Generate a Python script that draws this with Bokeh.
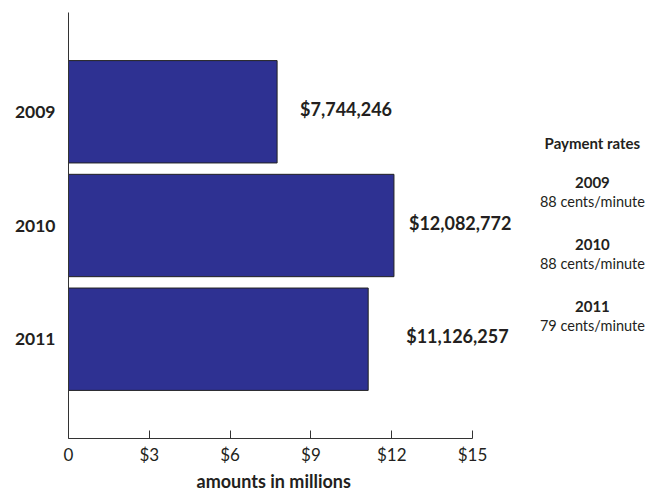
from bokeh.plotting import figure
from bokeh.models import ColumnDataSource, Range1d, FixedTicker, Title
from bokeh.core.properties import value
from bokeh.embed import file_html
from bokeh.resources import INLINE

# ---- data ----
years = ["2009", "2010", "2011"]
amounts = [7.744246, 12.082772, 11.126257]  # millions of dollars
amount_labels = ["$7,744,246", "$12,082,772", "$11,126,257"]
x_ticks = [0, 3, 6, 9, 12, 15]
rate_years = ["2009", "2010", "2011"]
rates = ["88 cents/minute", "88 cents/minute", "79 cents/minute"]

FONT = "Lato"
TXT = "#231f20"
BAR = "#2e3192"

n = len(years)
ypos = [n - i for i in range(n)]
label_dx = [23, 15, 38]

p = figure(width=649, height=493, output_backend="svg", toolbar_location=None,
           x_range=Range1d(0, 21.57), y_range=Range1d(0.127, 3.873),
           min_border_left=68, min_border_right=0, min_border_top=12, min_border_bottom=55)
p.outline_line_color = None
p.grid.visible = False
p.background_fill_color = "white"
p.border_fill_color = "white"

src = ColumnDataSource(dict(y=ypos, right=amounts, lab=amount_labels, dx=label_dx))
p.hbar(y="y", left=0, right="right", height=0.9, source=src,
       fill_color=BAR, line_color="#222222", line_width=1)
p.text(x="right", y="y", text="lab", x_offset="dx", y_offset=-3, source=src,
       text_font=value(FONT), text_font_style="bold", text_font_size="18px",
       text_color=TXT, text_align="left", text_baseline="middle")

# payment rates panel
xr = 19.45
p.text(x=[xr], y=[3], text=["Payment rates"], y_offset=[31],
       text_font=value(FONT), text_font_style="bold", text_font_size="15px",
       text_color=TXT, text_align="center", text_baseline="middle")
rs = ColumnDataSource(dict(x=[xr] * n, y=[3] * n, yr=rate_years, rt=rates,
                           oy=[71 + 62 * i for i in range(n)],
                           oy2=[90 + 62 * i for i in range(n)]))
p.text(x="x", y="y", text="yr", y_offset="oy", source=rs,
       text_font=value(FONT), text_font_style="bold", text_font_size="15px",
       text_color=TXT, text_align="center", text_baseline="middle")
p.text(x="x", y="y", text="rt", y_offset="oy2", source=rs,
       text_font=value(FONT), text_font_size="14.5px",
       text_color=TXT, text_align="center", text_baseline="middle")

# x axis
xa = p.xaxis[0]
xa.ticker = FixedTicker(ticks=x_ticks)
xa.major_label_overrides = {t: ("0" if t == 0 else f"${t}") for t in x_ticks}
xa.bounds = (x_ticks[0], x_ticks[-1])
xa.minor_tick_line_color = None
xa.major_tick_in = 8
xa.major_tick_out = 0
xa.major_tick_line_color = "#333333"
xa.axis_line_color = "#333333"
xa.major_label_text_font = FONT
xa.major_label_text_font_size = "17px"
xa.major_label_text_color = TXT
xa.major_label_standoff = 5

# axis title centred under the 0..15 scale
p.add_layout(Title(text="amounts in millions", align="left", offset=128,
                   text_font=FONT, text_font_style="bold", text_font_size="18px",
                   text_color=TXT, standoff=0), "below")

# y axis
ya = p.yaxis[0]
ya.ticker = FixedTicker(ticks=ypos)
ya.major_label_overrides = {ypos[i]: years[i] for i in range(n)}
ya.minor_tick_line_color = None
ya.major_tick_line_color = None
ya.axis_line_color = "#333333"
ya.major_label_text_font = FONT
ya.major_label_text_font_style = "bold"
ya.major_label_text_font_size = "17.5px"
ya.major_label_text_color = TXT
ya.major_label_standoff = 7

open("out.html", "w").write(file_html(p, INLINE))
